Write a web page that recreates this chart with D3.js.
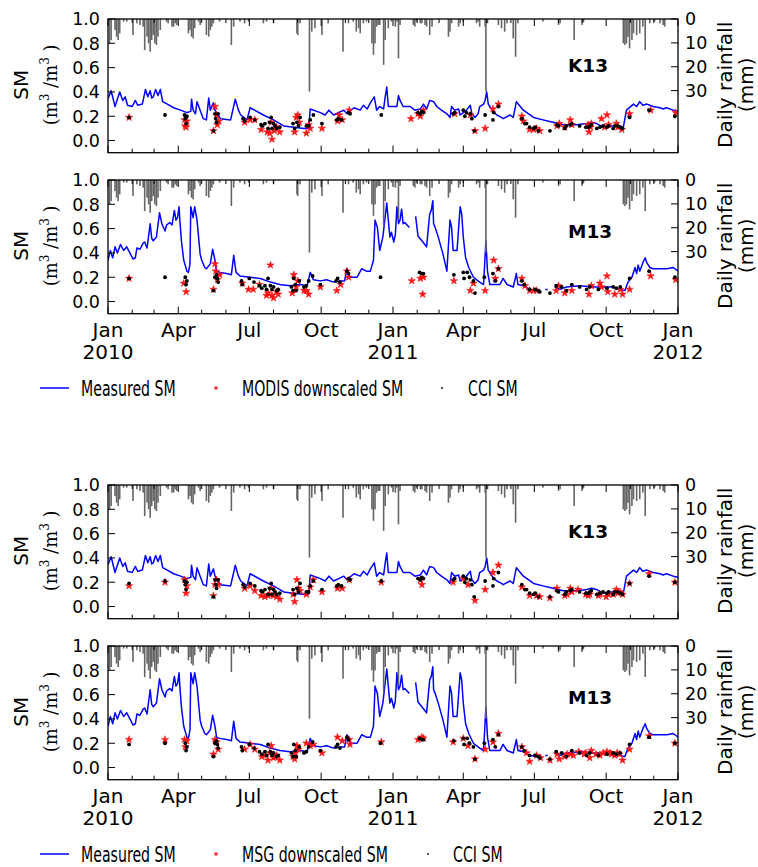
<!DOCTYPE html>
<html><head><meta charset="utf-8">
<script src="https://cdn.jsdelivr.net/npm/d3@7"></script>
<style>body{margin:0;background:#fff}svg{display:block}</style>
</head><body><svg id="c" width="758" height="867"></svg>
<script>
// ---- DATA (day offset from 2010-01-01, value) ----
const rainfall = [[2,10.2],[4,8.8],[9,4.6],[11,7.4],[13,8.8],[15,6.0],[20,1.1],[24,1.1],[32,6.7],[37,1.8],[41,2.5],[45,3.2],[47,13],[50,7.4],[52,10.2],[54,13.7],[56,8.8],[58,6.7],[60,10.2],[62,10.9],[64,7.4],[67,4.6],[75,1.1],[77,1.8],[82,3.2],[84,3.2],[86,1.8],[88,2.5],[103,6.0],[105,4.6],[107,7.4],[109,8.1],[111,3.9],[116,1.1],[118,2.5],[126,6.7],[129,7.4],[131,4.6],[133,3.2],[135,1.8],[143,1.1],[158,10.9],[161,3.2],[169,1.1],[175,1.8],[180,1.1],[199,1.8],[203,1.1],[212,1.8],[242,6.0],[243,6.7],[246,1.8],[258,30.4],[261,5.3],[265,3.9],[274,6.7],[282,1.8],[301,13.7],[308,1.8],[314,1.1],[318,5.3],[321,3.9],[323,6.0],[327,1.8],[331,1.1],[338,10.2],[340,15],[342,10.2],[344,3.2],[346,2.5],[348,2.5],[353,19.2],[355,8.8],[359,3.9],[363,1.1],[368,3.2],[370,1.1],[372,16.5],[374,2.5],[391,2.5],[393,3.2],[395,1.1],[400,1.8],[402,1.8],[406,2.5],[408,3.2],[412,6.7],[415,3.2],[436,7.4],[438,5.3],[440,1.8],[449,3.2],[451,1.8],[455,1.1],[472,1.8],[474,1.1],[476,3.2],[483,3.2],[484,30.4],[486,1.8],[500,2.5],[504,3.9],[508,5.3],[511,1.8],[519,8.1],[522,15.8],[525,1.8],[557,1.1],[577,2.5],[579,1.8],[597,8.8],[607,2.5],[609,1.1],[660,10.2],[662,10.9],[664,10.2],[666,7.4],[668,12.3],[671,8.8],[673,6.0],[677,6.7],[681,6.0],[685,3.2],[688,13.0],[694,1.8],[700,1.1],[707,1.8],[711,2.5],[713,3.2]];

const measuredK13 = [[0,0.345],[4,0.41],[9,0.28],[12,0.34],[15,0.40],[19,0.33],[22,0.36],[25,0.29],[31,0.28],[35,0.33],[38,0.29],[44,0.30],[48,0.42],[51,0.36],[54,0.41],[56,0.35],[58,0.36],[61,0.42],[64,0.37],[67,0.42],[70,0.32],[76,0.30],[84,0.27],[93,0.25],[101,0.23],[106,0.24],[107,0.34],[109,0.25],[112,0.22],[114,0.32],[122,0.18],[126,0.17],[129,0.35],[131,0.25],[135,0.31],[137,0.25],[142,0.20],[144,0.18],[157,0.17],[163,0.34],[167,0.25],[170,0.21],[176,0.18],[178,0.17],[182,0.27],[199,0.21],[212,0.17],[225,0.12],[238,0.11],[251,0.10],[257,0.10],[259,0.26],[272,0.23],[278,0.21],[283,0.25],[289,0.21],[302,0.25],[306,0.22],[315,0.27],[323,0.25],[327,0.29],[332,0.26],[336,0.31],[341,0.36],[344,0.25],[348,0.28],[353,0.26],[355,0.36],[357,0.44],[359,0.28],[370,0.28],[372,0.37],[374,0.33],[378,0.28],[387,0.28],[393,0.25],[400,0.26],[404,0.30],[408,0.26],[412,0.33],[417,0.32],[421,0.28],[427,0.25],[434,0.22],[438,0.19],[440,0.28],[444,0.25],[449,0.26],[451,0.21],[455,0.23],[459,0.25],[464,0.29],[466,0.22],[470,0.19],[474,0.22],[476,0.28],[481,0.30],[483,0.33],[485,0.40],[487,0.30],[489,0.28],[493,0.24],[498,0.21],[504,0.19],[506,0.18],[515,0.21],[519,0.19],[523,0.32],[532,0.25],[545,0.19],[557,0.17],[570,0.15],[583,0.13],[600,0.13],[613,0.14],[619,0.15],[626,0.14],[634,0.11],[643,0.12],[651,0.12],[660,0.11],[664,0.25],[673,0.30],[677,0.28],[681,0.32],[685,0.29],[690,0.30],[694,0.29],[698,0.28],[707,0.27],[711,0.26],[715,0.27],[724,0.25],[730,0.24]];

const measuredM13 = [[0,0.34],[3,0.42],[6,0.36],[9,0.45],[12,0.40],[16,0.47],[20,0.42],[24,0.45],[28,0.40],[32,0.35],[35,0.36],[37,0.44],[41,0.43],[45,0.48],[47,0.49],[50,0.44],[54,0.64],[56,0.52],[58,0.50],[62,0.53],[66,0.73],[69,0.64],[73,0.58],[75,0.63],[79,0.65],[82,0.63],[85,0.75],[87,0.67],[89,0.69],[91,0.78],[92,0.67],[94,0.50],[97,0.34],[101,0.25],[103,0.24],[105,0.31],[106,0.78],[109,0.69],[111,0.78],[114,0.67],[116,0.53],[118,0.39],[120,0.34],[124,0.28],[126,0.27],[131,0.31],[134,0.43],[137,0.34],[139,0.25],[143,0.24],[152,0.23],[158,0.22],[161,0.38],[164,0.24],[169,0.21],[182,0.20],[195,0.19],[208,0.16],[220,0.14],[233,0.13],[246,0.14],[255,0.13],[259,0.24],[263,0.18],[272,0.17],[280,0.18],[289,0.16],[297,0.17],[303,0.17],[306,0.27],[310,0.20],[319,0.20],[325,0.27],[331,0.25],[336,0.25],[340,0.34],[342,0.67],[345,0.61],[348,0.42],[352,0.53],[357,0.81],[361,0.53],[363,0.57],[366,0.49],[368,0.55],[370,0.78],[372,0.64],[374,0.67],[376,0.76],[378,0.64],[380,0.65],[386,0.61],[390,null],[394,0.70],[397,0.54],[402,0.50],[408,0.45],[412,0.72],[414,0.75],[416,0.83],[417,0.64],[419,0.61],[423,0.53],[429,0.39],[434,0.25],[438,0.67],[440,0.61],[442,0.42],[447,0.42],[451,0.78],[453,0.72],[455,0.53],[458,0.36],[462,0.28],[468,0.20],[476,0.16],[481,0.14],[484,0.50],[486,0.25],[489,0.14],[494,0.14],[502,0.14],[506,0.19],[511,0.14],[519,0.12],[523,0.23],[525,0.14],[532,0.13],[540,0.10],[549,0.09],[553,0.08],[557,null],[560,0.10],[563,0.10],[567,null],[572,0.12],[579,0.10],[587,0.12],[604,0.13],[622,0.12],[630,0.12],[647,0.12],[656,0.10],[662,0.09],[666,0.16],[671,0.20],[675,0.28],[677,0.23],[679,0.30],[681,0.25],[685,0.32],[688,0.36],[690,0.32],[694,0.28],[698,0.27],[707,0.27],[716,0.27],[724,0.28],[730,0.25]];

const cciK13 = [[27,0.19],[73,0.21],[98,0.21],[99,0.18],[100,0.14],[101,0.20],[135,0.08],[137,0.22],[138,0.18],[139,0.15],[141,0.22],[173,0.18],[175,0.16],[182,0.19],[188,0.17],[196,0.13],[198,0.12],[201,0.14],[205,0.10],[207,0.15],[209,0.19],[210,0.10],[212,0.14],[214,0.12],[216,0.10],[220,0.11],[237,0.14],[239,0.10],[242,0.15],[244,0.12],[246,0.19],[254,0.12],[257,0.12],[259,0.17],[263,0.21],[274,0.14],[293,0.17],[295,0.18],[299,0.17],[308,0.23],[310,0.22],[350,0.21],[397,0.23],[400,0.22],[402,0.24],[404,0.23],[442,0.22],[444,0.23],[455,0.25],[457,0.20],[459,0.23],[464,0.22],[466,0.18],[469,0.08],[483,0.21],[493,0.17],[494,0.23],[500,0.28],[530,0.18],[534,0.14],[536,0.14],[540,0.11],[545,0.10],[547,0.11],[551,0.08],[566,0.08],[575,0.13],[577,0.12],[585,0.10],[587,0.12],[592,0.13],[594,0.14],[604,0.12],[612,0.11],[615,0.11],[617,0.12],[619,0.13],[626,0.10],[630,0.11],[634,0.12],[639,0.11],[641,0.12],[647,0.10],[649,0.12],[653,0.12],[656,0.11],[659,0.10],[668,0.19],[693,0.25],[726,0.20]];

const cciM13 = [[27,0.19],[73,0.20],[99,0.20],[100,0.14],[101,0.17],[135,0.09],[137,0.20],[139,0.22],[140,0.19],[141,0.16],[171,0.17],[172,0.14],[181,0.19],[187,0.16],[194,0.13],[197,0.11],[201,0.13],[203,0.10],[205,0.19],[208,0.13],[210,0.10],[212,0.12],[216,0.09],[218,0.10],[235,0.12],[237,0.09],[238,0.19],[240,0.14],[241,0.09],[245,0.17],[251,0.12],[254,0.13],[257,0.17],[262,0.21],[272,0.14],[292,0.17],[294,0.19],[297,0.16],[306,0.25],[308,0.23],[349,0.20],[399,0.24],[402,0.23],[404,0.23],[443,0.22],[455,0.24],[456,0.19],[460,0.24],[463,0.20],[468,0.17],[470,0.07],[482,0.20],[493,0.23],[496,0.17],[500,0.27],[530,0.17],[533,0.14],[540,0.10],[547,0.10],[551,0.09],[553,0.08],[566,0.07],[574,0.13],[581,0.12],[587,0.09],[594,0.14],[604,0.12],[613,0.10],[617,0.12],[628,0.10],[639,0.11],[647,0.12],[651,0.11],[656,0.12],[668,0.19],[693,0.25],[726,0.20]];

const modisK13 = [[27,0.19],[98,0.17],[99,0.12],[100,0.11],[101,0.16],[135,0.08],[137,0.28],[139,0.21],[140,0.13],[142,0.16],[175,0.15],[182,0.17],[188,0.17],[196,0.09],[204,0.07],[207,0.06],[209,0.15],[210,0.01],[213,0.08],[216,0.11],[220,0.07],[239,0.07],[241,0.19],[243,0.21],[245,0.15],[254,0.06],[257,0.13],[259,0.10],[274,0.10],[294,0.16],[296,0.21],[300,0.17],[309,0.25],[388,0.18],[397,0.22],[400,0.20],[404,0.25],[444,0.22],[464,0.21],[470,0.08],[483,0.10],[493,0.26],[500,0.30],[530,0.20],[532,0.16],[540,0.09],[545,0.09],[549,0.10],[553,0.08],[575,0.12],[578,0.14],[585,0.11],[592,0.17],[594,0.13],[615,0.13],[616,0.07],[618,0.11],[619,0.14],[632,0.18],[636,0.11],[639,0.21],[641,0.13],[651,0.14],[653,0.11],[658,0.09],[668,0.22],[695,0.25],[727,0.23]];

const modisM13 = [[27,0.19],[97,0.15],[100,0.08],[135,0.10],[137,0.31],[138,0.25],[140,0.18],[143,0.22],[172,0.15],[180,0.10],[186,0.10],[194,0.14],[203,0.05],[205,0.07],[208,0.30],[210,0.05],[212,0.03],[216,0.08],[218,0.06],[236,0.07],[238,0.22],[241,0.12],[243,0.17],[251,0.09],[254,0.09],[257,0.06],[272,0.12],[293,0.09],[298,0.14],[306,0.25],[308,0.20],[389,0.17],[400,0.19],[403,0.06],[404,0.20],[443,0.17],[464,0.09],[468,0.15],[483,0.09],[494,0.34],[496,0.19],[500,0.27],[530,0.19],[534,0.13],[540,0.09],[545,0.09],[549,0.09],[574,0.09],[577,0.13],[585,0.07],[594,0.09],[616,0.06],[619,0.13],[630,0.15],[632,0.12],[639,0.21],[640,0.08],[649,0.06],[656,0.10],[659,0.06],[668,0.10],[695,0.21],[727,0.18]];

const msgK13 = [[27,0.17],[73,0.20],[98,0.22],[100,0.11],[101,0.17],[135,0.09],[137,0.18],[139,0.22],[141,0.18],[175,0.15],[182,0.17],[188,0.13],[196,0.09],[201,0.08],[205,0.09],[207,0.10],[209,0.15],[212,0.09],[214,0.10],[216,0.08],[220,0.06],[237,0.10],[239,0.04],[242,0.22],[244,0.15],[246,0.13],[254,0.10],[259,0.16],[263,0.22],[274,0.12],[294,0.15],[300,0.15],[309,0.22],[350,0.20],[400,0.22],[402,0.18],[442,0.20],[455,0.23],[461,0.18],[470,0.05],[483,0.14],[493,0.28],[500,0.34],[530,0.16],[540,0.09],[549,0.09],[553,0.08],[566,0.07],[575,0.15],[585,0.09],[588,0.10],[592,0.15],[594,0.12],[602,0.14],[612,0.10],[615,0.09],[617,0.10],[628,0.09],[630,0.10],[638,0.08],[641,0.10],[647,0.10],[651,0.14],[653,0.11],[656,0.12],[659,0.10],[668,0.19],[693,0.27],[726,0.20]];

const msgM13 = [[27,0.23],[73,0.23],[98,0.23],[99,0.17],[101,0.22],[135,0.11],[137,0.23],[139,0.21],[141,0.15],[175,0.15],[182,0.19],[188,0.15],[197,0.09],[200,0.10],[205,0.06],[207,0.12],[209,0.18],[212,0.08],[214,0.09],[216,0.10],[220,0.06],[237,0.09],[239,0.07],[240,0.12],[242,0.18],[244,0.15],[254,0.20],[259,0.18],[263,0.19],[274,0.12],[294,0.25],[300,0.22],[309,0.23],[310,0.19],[350,0.21],[397,0.23],[402,0.25],[404,0.24],[442,0.21],[455,0.24],[461,0.18],[470,0.07],[483,0.15],[493,0.21],[500,0.28],[530,0.17],[536,0.12],[540,0.05],[549,0.10],[554,0.08],[566,0.06],[575,0.11],[578,0.07],[585,0.09],[588,0.11],[592,0.11],[596,0.10],[603,0.13],[610,0.11],[612,0.12],[617,0.08],[619,0.14],[625,0.11],[630,0.10],[634,0.12],[639,0.13],[643,0.12],[645,0.11],[649,0.10],[652,0.12],[655,0.11],[659,0.06],[668,0.15],[693,0.26],[726,0.20]];

const smTicks = [0.0, 0.2, 0.4, 0.6, 0.8, 1.0];
const rainTicks = [0, 10, 20, 30];
const monthNames = ["Jan", "Apr", "Jul", "Oct"];
const stations = ["K13", "M13", "K13", "M13"];
const legendTop = ["Measured SM", "MODIS downscaled SM", "CCI SM"];
const legendBottom = ["Measured SM", "MSG downscaled SM", "CCI SM"];

// ---- LAYOUT ----
const svg = d3.select("#c");
const t0 = new Date(2010, 0, 1), t1 = new Date(2012, 0, 1);
const toDate = d => d3.timeDay.offset(t0, d);
const X0 = 108, X1 = 678, H = 133.7;
const x = d3.scaleTime().domain([t0, t1]).range([X0, X1]);
const sans = "'DejaVu Sans', sans-serif";

const panels = [
  {top: 19,  sm: measuredK13, sat: modisK13, cci: cciK13, lab: stations[0], labOff: 53, xlab: false},
  {top: 180, sm: measuredM13, sat: modisM13, cci: cciM13, lab: stations[1], labOff: 57.5, xlab: true},
  {top: 485, sm: measuredK13, sat: msgK13,  cci: cciK13, lab: stations[2], labOff: 53, xlab: false},
  {top: 646, sm: measuredM13, sat: msgM13,  cci: cciM13, lab: stations[3], labOff: 57.5, xlab: true}
];

const star = d3.symbol().type(d3.symbolStar).size(17);

panels.forEach((p, i) => {
  const top = p.top, bot = top + H;
  const y = d3.scaleLinear().domain([-0.1, 1.0]).range([bot, top]);
  const yr = d3.scaleLinear().domain([0, 56]).range([top, bot]);
  const g = svg.append("g");
  const cid = "clip" + i;
  svg.append("clipPath").attr("id", cid).append("rect")
    .attr("x", X0).attr("y", top).attr("width", X1 - X0).attr("height", H);
  const inner = g.append("g").attr("clip-path", `url(#${cid})`);

  // measured line
  inner.append("path")
    .datum(p.sm)
    .attr("fill", "none").attr("stroke", "#0000ff").attr("stroke-width", 1.5)
    .attr("stroke-linejoin", "round")
    .attr("d", d3.line().defined(d => d[1] != null)
      .x(d => x(toDate(d[0]))).y(d => y(d[1])));

  // satellite stars
  inner.selectAll(".st").data(p.sat).join("path")
    .attr("d", star)
    .attr("transform", d => `translate(${x(toDate(d[0]))},${y(d[1])})`)
    .attr("fill", "#ff1a1a").attr("stroke", "#ff0000").attr("stroke-width", 0.5);

  // CCI dots
  inner.selectAll(".cc").data(p.cci).join("circle")
    .attr("cx", d => x(toDate(d[0]))).attr("cy", d => y(d[1])).attr("r", 1.9)
    .attr("fill", "#000");

  // rainfall bars (twin axis, hanging from top)
  inner.selectAll(".rb").data(rainfall).join("rect")
    .attr("x", d => x(toDate(d[0])) - 0.8).attr("width", 1.6)
    .attr("y", top).attr("height", d => yr(d[1]) - top)
    .attr("fill", "#666666");

  // frame
  g.append("rect").attr("x", X0).attr("y", top).attr("width", X1 - X0).attr("height", H)
    .attr("fill", "none").attr("stroke", "#000").attr("stroke-width", 1.3);

  // x ticks (inward, top and bottom)
  const months = d3.timeMonth.range(t0, d3.timeDay.offset(t1, 1));
  months.forEach(m => {
    const major = m.getMonth() % 3 === 0;
    const len = major ? 7 : 4;
    const xx = x(m);
    g.append("line").attr("x1", xx).attr("x2", xx).attr("y1", bot).attr("y2", bot - len)
      .attr("stroke", "#000").attr("stroke-width", 1);
    g.append("line").attr("x1", xx).attr("x2", xx).attr("y1", top).attr("y2", top + len)
      .attr("stroke", "#000").attr("stroke-width", 1);
    if (p.xlab && major) {
      g.append("text").attr("x", xx).attr("y", bot + 23)
        .attr("text-anchor", "middle").attr("font-family", sans).attr("font-size", 20)
        .text(monthNames[m.getMonth() / 3]);
      if (m.getMonth() === 0) {
        g.append("text").attr("x", xx).attr("y", bot + 45)
          .attr("text-anchor", "middle").attr("font-family", sans).attr("font-size", 20)
          .text(m.getFullYear());
      }
    }
  });

  // left SM ticks
  smTicks.forEach(v => {
    g.append("line").attr("x1", X0).attr("x2", X0 + 7).attr("y1", y(v)).attr("y2", y(v))
      .attr("stroke", "#000").attr("stroke-width", 1);
    g.append("text").attr("x", X0 - 8).attr("y", y(v)).attr("dy", "0.36em")
      .attr("text-anchor", "end").attr("font-family", sans).attr("font-size", 17.5)
      .text(v.toFixed(1));
  });
  // right rain ticks
  rainTicks.forEach(v => {
    g.append("line").attr("x1", X1).attr("x2", X1 - 7).attr("y1", yr(v)).attr("y2", yr(v))
      .attr("stroke", "#000").attr("stroke-width", 1);
    g.append("text").attr("x", X1 + 7).attr("y", yr(v)).attr("dy", "0.36em")
      .attr("text-anchor", "start").attr("font-family", sans).attr("font-size", 17.5)
      .text(v);
  });

  // station label
  g.append("text").attr("x", 568).attr("y", top + p.labOff)
    .attr("font-family", sans).attr("font-weight", "bold").attr("font-size", 18.5)
    .text(p.lab);

  // axis labels
  const cy = top + H / 2 - 1;
  g.append("text").attr("transform", `translate(28,${cy}) rotate(-90)`)
    .attr("text-anchor", "middle").attr("font-family", sans).attr("font-size", 20).text("SM");
  const ul = g.append("text").attr("transform", `translate(57,${cy}) rotate(-90)`)
    .attr("text-anchor", "middle").attr("font-family", "'DejaVu Serif', serif").attr("font-size", 18);
  ul.append("tspan").text("(m");
  ul.append("tspan").attr("dy", -8).attr("font-size", 12).text("3");
  ul.append("tspan").attr("dy", 8).text(" /m");
  ul.append("tspan").attr("dy", -8).attr("font-size", 12).text("3");
  ul.append("tspan").attr("dy", 8).text(" )");
  g.append("text").attr("transform", `translate(732,${cy}) rotate(-90)`)
    .attr("text-anchor", "middle").attr("font-family", sans).attr("font-size", 20).text("Daily rainfall");
  g.append("text").attr("transform", `translate(753,${cy}) rotate(-90)`)
    .attr("text-anchor", "middle").attr("font-family", sans).attr("font-size", 20).text("(mm)");
});

// ---- LEGENDS ----
function legend(cy, labels, textX, starX, dotX, cciX) {
  const g = svg.append("g");
  g.append("line").attr("x1", 40).attr("x2", 69).attr("y1", cy).attr("y2", cy)
    .attr("stroke", "#0000ff").attr("stroke-width", 1.5);
  g.append("path").attr("d", d3.symbol().type(d3.symbolStar).size(9))
    .attr("transform", `translate(${starX},${cy})`).attr("fill", "#ff0000");
  g.append("circle").attr("cx", dotX).attr("cy", cy).attr("r", 0.9).attr("fill", "#000");
  const xs = [textX[0], textX[1], cciX];
  labels.forEach((t, i) => {
    g.append("text").attr("transform", `translate(${xs[i]},${cy + 7.5}) scale(0.69,1)`)
      .attr("font-family", sans).attr("font-size", 20.5).text(t);
  });
}
legend(388, legendTop, [81, 242], 216, 442, 468);
legend(854, legendBottom, [81, 242], 216, 428, 453);
</script></body></html>
